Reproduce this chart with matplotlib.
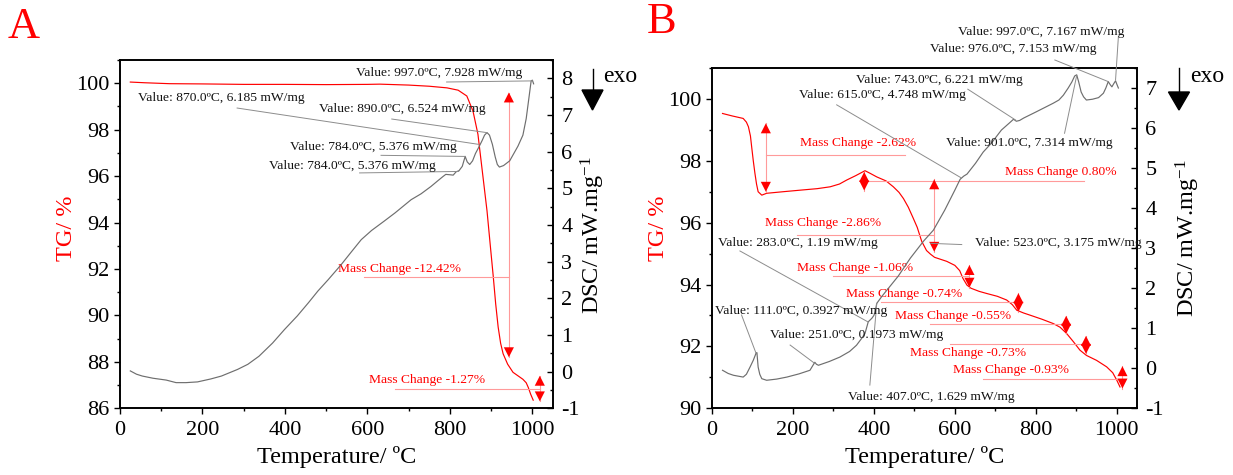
import matplotlib
matplotlib.use("Agg")
import matplotlib.pyplot as plt
from matplotlib.lines import Line2D
from matplotlib.patches import Polygon
from matplotlib.ticker import MultipleLocator

plt.rcParams["font.family"] = ["Liberation Serif", "DejaVu Serif"]
plt.rcParams["mathtext.fontset"] = "custom"
plt.rcParams["mathtext.rm"] = "Liberation Serif"
plt.rcParams["mathtext.it"] = "Liberation Serif:italic"
plt.rcParams["axes.unicode_minus"] = False

W, H = 1233, 475
RED = "#ff0000"
PINK = "#ff9a9a"
GREY = "#6e6e6e"
LEAD = "#8c8c8c"

# ----- panel A: TG curve -----
A_TG_T = [25, 60, 120, 200, 300, 400, 500, 600, 630, 700, 750, 793, 820, 841,
          856, 868, 880, 890, 898, 905, 911, 917, 923, 929, 940, 953, 965,
          977, 985, 990, 996, 1002]
A_TG = [100.05, 100.02, 99.98, 99.97, 99.95, 99.95, 99.94, 99.95, 99.96, 99.92,
        99.87, 99.8, 99.7, 99.45, 98.8, 97.8, 96.0, 94.5, 93.0, 91.7, 90.5,
        89.5, 88.8, 88.35, 87.9, 87.55, 87.4, 87.25, 87.1, 86.9, 86.6, 86.35]

# ----- panel A: DSC curve -----
A_DSC_T = [25, 40, 54, 80, 112, 136, 160, 188, 220, 246, 285, 310, 337, 370,
           399, 430, 457, 480, 505, 535, 562, 585, 610, 640, 667, 706, 730,
           754, 770, 783, 790, 800, 808, 815, 822, 830, 837, 842, 848, 855,
           862, 870, 878, 884, 890, 896, 903, 910, 915, 920, 930, 945, 955,
           965, 977, 985, 992, 997, 1000, 1003]
A_DSC = [0.02, -0.07, -0.12, -0.18, -0.23, -0.30, -0.30, -0.28, -0.2, -0.12,
         0.06, 0.2, 0.42, 0.78, 1.15, 1.52, 1.88, 2.2, 2.51, 2.9, 3.28, 3.6,
         3.85, 4.1, 4.33, 4.69, 4.85, 5.05, 5.2, 5.32, 5.38, 5.37, 5.36, 5.45,
         5.48, 5.6, 5.87, 5.72, 5.65, 5.75, 5.95, 6.12, 6.3, 6.45, 6.52, 6.45,
         6.2, 5.85, 5.65, 5.58, 5.62, 5.75, 5.95, 6.15, 6.45, 6.9, 7.5, 7.93,
         7.95, 7.85]

# ----- panel B: TG curve -----
B_TG_T = [26, 50, 77, 85, 90, 95, 98, 102, 106, 110, 114, 123, 135, 175, 217,
          260, 292, 315, 333, 355, 378, 390, 407, 430, 448, 462, 473, 485, 497,
          507, 518, 530, 540, 550, 580, 600, 612, 620, 630, 640, 660, 679, 705,
          728, 742, 753, 770, 786, 815, 843, 860, 876, 893, 909, 925, 950, 975,
          990, 1000, 1008]
B_TG = [99.53, 99.45, 99.37, 99.25, 99.1, 98.8, 98.45, 98.0, 97.6, 97.25, 97.0,
        96.89, 96.95, 97.0, 97.05, 97.1, 97.16, 97.25, 97.38, 97.52, 97.68,
        97.6, 97.48, 97.35, 97.16, 96.98, 96.78, 96.5, 96.15, 95.85, 95.4,
        95.1, 94.98, 94.88, 94.75, 94.62, 94.45, 94.2, 93.98, 93.88, 93.78,
        93.71, 93.62, 93.5, 93.35, 93.17, 93.08, 93.01, 92.88, 92.74, 92.62,
        92.42, 92.15, 91.88, 91.71, 91.55, 91.34, 91.15, 90.91, 90.69]

# ----- panel B: DSC curve -----
B_DSC_T = [26, 40, 53, 77, 85, 94, 102, 109, 111, 114, 118, 123, 135, 160, 185,
           215, 242, 248, 254, 258, 263, 290, 316, 340, 357, 370, 378, 383, 386,
           390, 395, 400, 403, 407, 420, 432, 460, 490, 523, 547, 575, 600, 613,
           622, 630, 651, 670, 690, 715, 734, 745, 752, 760, 770, 800, 843, 857,
           868, 880, 889, 896, 901, 906, 912, 918, 925, 940, 955, 967, 973, 979,
           984, 988, 992, 997, 1000, 1004]
B_DSC = [-0.05, -0.13, -0.175, -0.22, -0.15, 0.03, 0.2, 0.38, 0.39, 0.03, -0.15,
         -0.26, -0.3, -0.27, -0.22, -0.14, -0.05, 0.05, 0.15, 0.1, 0.075, 0.17,
         0.28, 0.42, 0.575, 0.75, 0.87, 1.05, 1.16, 1.2, 1.25, 1.32, 1.41, 1.62,
         1.8, 1.95, 2.3, 2.75, 3.18, 3.45, 3.95, 4.45, 4.72, 4.8, 4.85, 5.12,
         5.4, 5.62, 5.95, 6.12, 6.22, 6.17, 6.19, 6.25, 6.4, 6.62, 6.7, 6.82,
         7.0, 7.15, 7.3, 7.33, 7.15, 6.9, 6.78, 6.7, 6.72, 6.76, 6.87, 7.0,
         7.16, 7.08, 7.03, 7.1, 7.18, 7.1, 7.0]

# ----- annotations: (text, text x, text y, line x0, line y0, line x1, line y1) -----
A_VALUES = [
    ("Value: 997.0ºC, 7.928 mW/mg", 572, 8.15, 792, 7.9, 1000, 7.93),
    ("Value: 870.0ºC, 6.185 mW/mg", 44, 7.47, 284, 7.19, 869, 6.2),
    ("Value: 890.0ºC, 6.524 mW/mg", 483, 7.16, 659, 6.89, 889, 6.52),
    ("Value: 784.0ºC, 5.376 mW/mg", 413, 6.14, 633, 5.9, 837, 5.87),
    ("Value: 784.0ºC, 5.376 mW/mg", 361, 5.62, 581, 5.42, 821, 5.46),
]
B_VALUES = [
    ("Value: 997.0ºC, 7.167 mW/mg", 608, 8.41, 1004, 8.28, 997, 7.2),
    ("Value: 976.0ºC, 7.153 mW/mg", 539, 7.97, 847, 7.7, 979, 7.16),
    ("Value: 743.0ºC, 6.221 mW/mg", 356, 7.2, 632, 6.97, 750, 6.2),
    ("Value: 615.0ºC, 4.748 mW/mg", 215, 6.82, 308, 6.58, 615, 4.76),
    ("Value: 901.0ºC, 7.314 mW/mg", 578, 5.62, 871, 5.87, 901, 7.31),
    ("Value: 523.0ºC, 3.175 mW/mg", 650, 3.13, 617, 3.09, 540, 3.12),
    ("Value: 283.0ºC, 1.19 mW/mg", 15, 3.14, 69, 2.93, 385, 1.16),
    ("Value: 111.0ºC, 0.3927 mW/mg", 7, 1.43, 73, 1.33, 109, 0.37),
    ("Value: 251.0ºC, 0.1973 mW/mg", 144, 0.825, 193, 0.58, 254, 0.12),
    ("Value: 407.0ºC, 1.629 mW/mg", 337, -0.72, 390, -0.42, 407, 1.62),
]
# (text, text x, text y, line from x, line to x, line y, arrow x, arrow top, arrow bottom)
A_MASS = [
    ("Mass Change -12.42%", 528, 92.0, 591, 943, 91.65, 943, 99.6, 88.2),
    ("Mass Change -1.27%", 605, 87.2, 667, 1018, 86.84, 1018, 87.4, 86.3),
]
B_MASS = [
    ("Mass Change -2.62%", 217, 98.58, 133, 477, 98.19, 133, 99.21, 97.0),
    ("Mass Change 0.80%", 724, 97.65, 376, 919, 97.35, 376, 97.64, 97.04),
    ("Mass Change -2.86%", 131, 96.0, 209, 549, 95.6, 549, 97.4, 95.06),
    ("Mass Change -1.06%", 210, 94.52, 299, 636, 94.27, 636, 94.63, 93.9),
    ("Mass Change -0.74%", 331, 93.68, 417, 757, 93.44, 757, 93.72, 93.12),
    ("Mass Change -0.55%", 451, 92.98, 539, 875, 92.72, 875, 92.99, 92.41),
    ("Mass Change -0.73%", 489, 91.79, 588, 924, 92.07, 924, 92.34, 91.76),
    ("Mass Change -0.93%", 596, 91.25, 670, 1014, 90.94, 1014, 91.36, 90.64),
]


def add_axes_px(fig, x0, y0, x1, y1):
    return fig.add_axes([x0 / W, 1 - y1 / H, (x1 - x0) / W, (y1 - y0) / H])


def style(ax, ax2, tg_lim, dsc_lim):
    ax.set_xlim(0, 1050)
    ax.set_ylim(*tg_lim)
    ax2.set_ylim(*dsc_lim)
    ax.xaxis.set_major_locator(MultipleLocator(200))
    ax.xaxis.set_minor_locator(MultipleLocator(100))
    ax.yaxis.set_major_locator(MultipleLocator(2))
    ax.yaxis.set_minor_locator(MultipleLocator(1))
    ax2.yaxis.set_major_locator(MultipleLocator(1))
    ax2.yaxis.set_minor_locator(MultipleLocator(0.5))
    for a in (ax, ax2):
        for s in a.spines.values():
            s.set_linewidth(1.2)
    ax.tick_params(axis="both", which="major", direction="out", length=4.5,
                   width=1.0, labelsize=16, pad=3)
    ax.tick_params(axis="x", which="major", pad=5)
    ax.tick_params(axis="both", which="minor", direction="out", length=2.5, width=1.0)
    ax2.tick_params(axis="y", which="major", direction="in", length=4.5,
                    width=1.0, labelsize=16, pad=6)
    ax2.tick_params(axis="y", which="minor", direction="in", length=2.5, width=1.0)


def value_labels(ax, items):
    for txt, tx, ty, x0, y0, x1, y1 in items:
        ax.plot([x0, x1], [y0, y1], color=LEAD, lw=0.7, clip_on=False, zorder=4)
        ax.text(tx, ty, txt, fontsize=9.7, ha="left", va="center", color="#111111",
                zorder=5)


def mass_labels(ax, items):
    for txt, tx, ty, lx0, lx1, ly, ax_x, y_top, y_bot in items:
        ax.plot([lx0, lx1], [ly, ly], color=PINK, lw=0.8, zorder=3)
        ax.plot([ax_x, ax_x], [y_top, y_bot], color=PINK, lw=0.8, zorder=3)
        ax.annotate("", xy=(ax_x, y_top), xytext=(ax_x, y_bot),
                    arrowprops=dict(arrowstyle="<|-|>,head_length=0.55,head_width=0.28",
                                    lw=0, color=RED, shrinkA=0, shrinkB=0,
                                    mutation_scale=13), zorder=4)
        ax.text(tx, ty, txt, fontsize=9.7, ha="left", va="center", color=RED, zorder=5)


def exo_arrow(fig, x, y0, y1, y2):
    fig.add_artist(Line2D([x / W, x / W], [1 - y0 / H, 1 - y1 / H], color="black", lw=1.0))
    fig.add_artist(Polygon([((x - 10.5) / W, 1 - y1 / H), ((x + 10.5) / W, 1 - y1 / H),
                            (x / W, 1 - y2 / H)], closed=True, color="black"))
    fig.text((x + 11) / W, 1 - 77 / H, "exo", fontsize=17, ha="left", va="center")


fig = plt.figure(figsize=(W / 100, H / 100), dpi=100)

# ---------------- panel A ----------------
axA = add_axes_px(fig, 120, 60, 553, 408.3)
axA2 = axA.twinx()
style(axA, axA2, (86, 101), (-1, 8.5))
axA.plot(A_TG_T, A_TG, color=RED, lw=0.85, zorder=2)
axA2.plot(A_DSC_T, A_DSC, color=GREY, lw=0.85, zorder=2)
mass_labels(axA, A_MASS)
value_labels(axA2, A_VALUES)

# ---------------- panel B ----------------
axB = add_axes_px(fig, 712, 68, 1137, 408.3)
axB2 = axB.twinx()
style(axB, axB2, (90, 101), (-1, 7.5))
axB.plot(B_TG_T, B_TG, color=RED, lw=0.85, zorder=2)
axB2.plot(B_DSC_T, B_DSC, color=GREY, lw=0.85, zorder=2)
mass_labels(axB, B_MASS)
value_labels(axB2, B_VALUES)

# axis labels
for cx in (337, 925):
    fig.text(cx / W, 1 - 457 / H, "Temperature/ ºC", fontsize=17.5, ha="center", va="center")
fig.text(67 / W, 1 - 228 / H, "TG/ %", color=RED, fontsize=17.5, rotation=90,
         ha="center", va="center")
fig.text(659 / W, 1 - 228 / H, "TG/ %", color=RED, fontsize=17.5, rotation=90,
         ha="center", va="center")
fig.text(593 / W, 1 - 235 / H, "DSC/ mW.mg$^{-1}$", fontsize=17.5, rotation=90,
         ha="center", va="center")
fig.text(1188 / W, 1 - 238 / H, "DSC/ mW.mg$^{-1}$", fontsize=17.5, rotation=90,
         ha="center", va="center")

# panel letters
fig.text(8 / W, 1 - 27 / H, "A", color=RED, fontsize=32, ha="left", va="center")
fig.text(647 / W, 1 - 22 / H, "B", color=RED, fontsize=32, ha="left", va="center")

# exo markers
exo_arrow(fig, 592.5, 69, 90, 110)
exo_arrow(fig, 1179, 68, 92, 110)

fig.savefig("out.png", dpi=100)
